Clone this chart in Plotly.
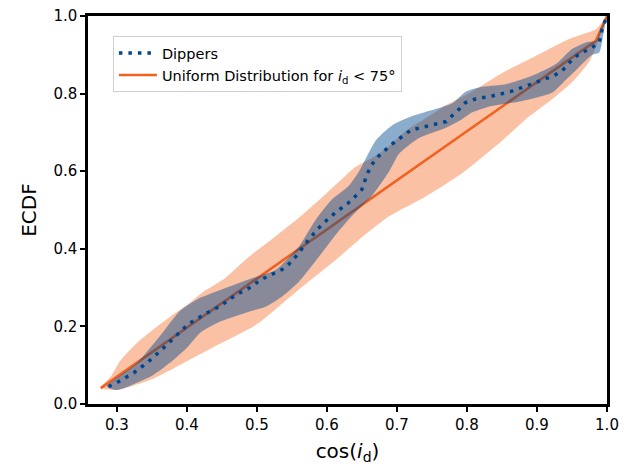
import plotly.graph_objects as go

# ---- data ----
uni_x = [0.277, 0.40, 0.50, 0.60, 0.70, 0.80, 0.90, 0.984, 1.0]
uni_y = [0.041, 0.197, 0.323, 0.450, 0.577, 0.703, 0.830, 0.936, 1.0]

uni_up_x = [0.277, 0.293, 0.305, 0.329, 0.352, 0.376, 0.40, 0.424, 0.455, 0.489, 0.525, 0.56,
            0.60, 0.621, 0.64, 0.66, 0.684, 0.712, 0.746, 0.77, 0.807, 0.851, 0.898, 0.946,
            0.984, 0.993, 1.0]
uni_up_y = [0.041, 0.075, 0.112, 0.158, 0.192, 0.225, 0.255, 0.29, 0.325, 0.38, 0.43, 0.48,
            0.544, 0.579, 0.61, 0.63, 0.658, 0.703, 0.742, 0.77, 0.805, 0.854, 0.897, 0.941,
            0.966, 0.984, 1.0]
uni_lo_x = [0.277, 0.30, 0.352, 0.40, 0.447, 0.495, 0.514, 0.56, 0.615, 0.65, 0.689, 0.741,
            0.793, 0.851, 0.884, 0.922, 0.95, 0.974, 0.986, 1.0]
uni_lo_y = [0.041, 0.036, 0.065, 0.11, 0.155, 0.20, 0.225, 0.295, 0.375, 0.43, 0.484, 0.535,
            0.595, 0.68, 0.734, 0.786, 0.829, 0.88, 0.928, 1.0]

dip_x = [0.288, 0.30, 0.324, 0.345, 0.364, 0.383, 0.402, 0.426, 0.448, 0.471, 0.493, 0.505,
         0.541, 0.558, 0.574, 0.593, 0.612, 0.634, 0.65, 0.658, 0.667, 0.677, 0.696, 0.72,
         0.746, 0.77, 0.789, 0.798, 0.812, 0.836, 0.862, 0.886, 0.912, 0.924, 0.936, 0.953,
         0.965, 0.977, 0.989, 0.993, 1.0]
dip_y = [0.045, 0.055, 0.08, 0.109, 0.14, 0.172, 0.206, 0.232, 0.253, 0.282, 0.303, 0.32,
         0.351, 0.385, 0.424, 0.463, 0.493, 0.523, 0.553, 0.595, 0.625, 0.645, 0.674, 0.706,
         0.717, 0.728, 0.76, 0.777, 0.786, 0.794, 0.805, 0.82, 0.837, 0.846, 0.859, 0.893,
         0.906, 0.917, 0.932, 0.966, 1.0]

dip_up_x = [0.286, 0.329, 0.361, 0.39, 0.414, 0.457, 0.49, 0.527, 0.56, 0.584, 0.607, 0.631,
            0.646, 0.67, 0.693, 0.722, 0.755, 0.779, 0.798, 0.817, 0.855, 0.893, 0.927, 0.95,
            0.97, 0.984, 0.993, 1.0]
dip_up_y = [0.045, 0.106, 0.174, 0.24, 0.269, 0.300, 0.322, 0.346, 0.406, 0.475, 0.527, 0.562,
            0.60, 0.68, 0.718, 0.742, 0.76, 0.775, 0.805, 0.816, 0.824, 0.846, 0.876, 0.915,
            0.932, 0.936, 0.975, 1.0]
dip_lo_x = [0.286, 0.30, 0.352, 0.381, 0.40, 0.42, 0.447, 0.489, 0.514, 0.536, 0.56, 0.593,
            0.612, 0.636, 0.664, 0.689, 0.703, 0.731, 0.77, 0.793, 0.807, 0.831, 0.879, 0.922,
            0.941, 0.955, 0.979, 0.989, 0.996, 1.0]
dip_lo_y = [0.045, 0.036, 0.075, 0.114, 0.145, 0.185, 0.212, 0.238, 0.252, 0.277, 0.315, 0.39,
            0.435, 0.485, 0.536, 0.6, 0.645, 0.685, 0.712, 0.734, 0.751, 0.766, 0.781, 0.803,
            0.835, 0.859, 0.9, 0.906, 0.966, 1.0]

x_ticks = [0.3, 0.4, 0.5, 0.6, 0.7, 0.8, 0.9, 1.0]
y_ticks = [0.0, 0.2, 0.4, 0.6, 0.8, 1.0]

ORANGE = "#f2611d"
BLUE = "#00468c"

fig = go.Figure()
fig.add_trace(go.Scatter(
    x=uni_up_x + uni_lo_x[::-1], y=uni_up_y + uni_lo_y[::-1],
    fill="toself", fillcolor="rgba(242,100,30,0.4)", line=dict(width=0, shape="spline", smoothing=0.6),
    mode="lines", showlegend=False, hoverinfo="skip"))
fig.add_trace(go.Scatter(
    x=uni_x, y=uni_y, mode="lines", line=dict(color=ORANGE, width=2.6),
    name="Uniform Distribution for <i>i</i><sub>d</sub> &lt; 75°", legendrank=2))
fig.add_trace(go.Scatter(
    x=dip_up_x + dip_lo_x[::-1], y=dip_up_y + dip_lo_y[::-1],
    fill="toself", fillcolor="rgba(0,70,140,0.45)", line=dict(width=0, shape="spline", smoothing=0.6),
    mode="lines", showlegend=False, hoverinfo="skip"))
fig.add_trace(go.Scatter(
    x=dip_x, y=dip_y, mode="lines",
    line=dict(color=BLUE, width=3.5, dash="3.5px,6px"),
    name="Dippers", legendrank=1))

axis_common = dict(
    showline=True, mirror=True, linecolor="black", linewidth=2.5,
    ticks="outside", ticklen=5, tickwidth=2, tickcolor="black",
    showgrid=False, zeroline=False, automargin=False,
    ticklabeloverflow="allow",
    tickfont=dict(family="DejaVu Sans", size=15, color="black"),
)

fig.update_layout(
    width=630, height=460,
    margin=dict(l=80, r=31, t=8, b=64),
    plot_bgcolor="white", paper_bgcolor="white",
    font=dict(family="DejaVu Sans", color="black"),
    xaxis=dict(range=[0.2588, 1.0], tickvals=x_ticks,
               ticktext=[f"{v:.1f}" for v in x_ticks],
               title=dict(text="cos(<i>i</i><sub>d</sub>)", font=dict(size=20), standoff=12),
               **axis_common),
    yaxis=dict(range=[0.0, 1.0], tickvals=y_ticks,
               ticktext=[f"{v:.1f}" for v in y_ticks],
               title=dict(text="ECDF", font=dict(size=20), standoff=12),
               **axis_common),
    legend=dict(x=0.048, y=0.948, xanchor="left", yanchor="top",
                bgcolor="white", bordercolor="#d0d0d0", borderwidth=1,
                font=dict(family="DejaVu Sans", size=14.5, color="black"),
                itemwidth=38, tracegroupgap=0),
)

fig.write_html("out.html")
